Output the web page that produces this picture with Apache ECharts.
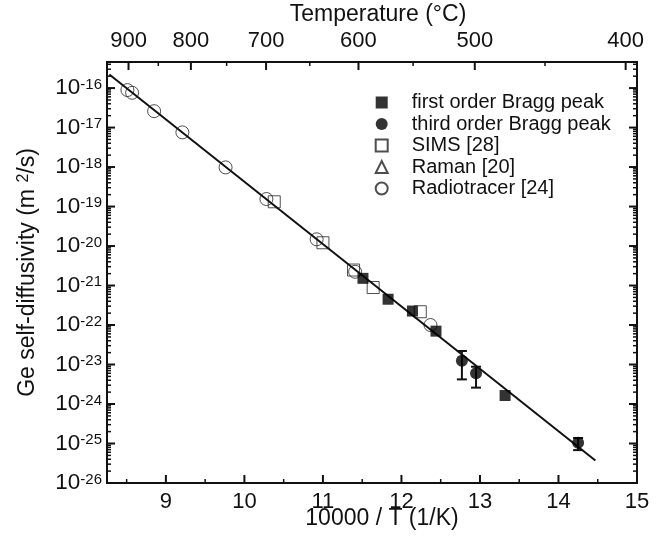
<!DOCTYPE html>
<html><head><meta charset="utf-8">
<script src="https://cdn.jsdelivr.net/npm/echarts@6/dist/echarts.min.js"></script>
<style>html,body{margin:0;padding:0;background:#fff}#c{width:663px;height:542px}</style>
</head><body><div id="c"></div>
<script>
// ---- data (x = 10000/T in 1/K, D in m^2/s) ----
const firstOrderX = [11.51, 11.83, 12.14, 12.44, 13.32];
const firstOrderD = [1.52e-21, 4.5e-22, 2.26e-22, 7.0e-23, 1.64e-24];

const thirdOrderX = [12.77, 12.95, 14.25];
const thirdOrderD = [1.25e-23, 6.0e-24, 1.05e-25];
const thirdOrderLow = [4.2e-24, 2.6e-24, 6.8e-26];
const thirdOrderHigh = [2.2e-23, 8.8e-24, 1.38e-25];

const simsX = [10.38, 11.00, 11.39, 11.64, 12.24];
const simsD = [1.32e-19, 1.21e-20, 2.47e-21, 8.9e-22, 2.17e-22];

const ramanX = [];
const ramanD = [];

const radioX = [8.51, 8.57, 8.85, 9.21, 9.76, 10.28, 10.92, 11.41, 12.37];
const radioD = [8.9e-17, 7.6e-17, 2.6e-17, 7.55e-18, 9.8e-19, 1.55e-19, 1.48e-20, 2.23e-21, 1.0e-22];

const fitX = [8.28, 14.47];
const fitD = [2.2e-16, 3.7e-26];

// tick labels
const xTicks = [9, 10, 11, 12, 13, 14, 15];
const xMinorTicks = [8.5, 9.5, 10.5, 11.5, 12.5, 13.5, 14.5];
const tempTicks = [900, 800, 700, 600, 500, 400];       // °C
const tempMinorTicks = [850, 750, 650, 550, 450];
const yDecades = [-26, -25, -24, -23, -22, -21, -20, -19, -18, -17, -16];

// ---- build ----
const X_MIN = 8.25, X_MAX = 15, Y_MIN = -26, Y_MAX = -15.34;
const FONT = 'Liberation Sans, Arial, Helvetica, sans-serif';
const INK = '#111111';
const lg = v => Math.log10(v);
const pairs = (xs, ds) => xs.map((x, i) => [x, lg(ds[i])]);
const invT = t => 10000 / (t + 273.15);

const yMinor = [];
yDecades.forEach(n => { for (let k = 2; k <= 9; k++) { const v = n + Math.log10(k); if (v < Y_MAX) yMinor.push(v); } });

const MAJ = 8, MIN_L = 4;

// tick marks drawn as small bar symbols sitting on the axis edges
function tickSeries(name, pts, vertical, len, dir) {
  const w = len > 5 ? 2 : 1.5;
  return {
    name: name, type: 'scatter', silent: true, clip: false, z: 6,
    symbol: 'rect',
    symbolSize: vertical ? [w, len] : [len, w],
    symbolOffset: vertical ? [0, dir * len / 2] : [dir * len / 2, 0],
    itemStyle: { color: INK, borderWidth: 0, opacity: 1 },
    data: pts
  };
}

const hiddenAxisBits = {
  axisLine: { show: false, onZero: false },
  axisTick: { show: false },
  splitLine: { show: false }
};

const openStyle = { color: 'rgba(0,0,0,0)', borderColor: '#222', borderWidth: 1 };
const fillStyle = { color: '#000' };

const option = {
  animation: false,
  textStyle: { fontFamily: FONT },
  grid: { left: 107, right: 26, top: 62, bottom: 59, containLabel: false, outerBoundsMode: 'none' },
  xAxis: [
    Object.assign({
      type: 'value', position: 'bottom', min: X_MIN, max: X_MAX,
      axisLabel: { show: true, customValues: xTicks, fontSize: 22, lineHeight: 22, margin: 8, color: INK, fontFamily: FONT },
      name: '10000 / T (1/K)', nameLocation: 'middle', nameGap: 24, nameMoveOverlap: false,
      nameTextStyle: { fontSize: 23, lineHeight: 23, color: INK, fontFamily: FONT, padding: [0, 0, 0, 20] }
    }, hiddenAxisBits),
    Object.assign({
      type: 'value', position: 'top', min: X_MIN, max: X_MAX,
      axisLabel: { show: true, customValues: tempTicks.map(invT), fontSize: 22, lineHeight: 22, margin: 10, color: INK, fontFamily: FONT,
        formatter: v => String(Math.round(10000 / v - 273.15)) },
      name: 'Temperature (°C)', nameLocation: 'middle', nameGap: 36, nameMoveOverlap: false,
      nameTextStyle: { fontSize: 23, lineHeight: 23, color: INK, fontFamily: FONT, padding: [0, 0, 0, 12] }
    }, hiddenAxisBits)
  ],
  yAxis: [
    Object.assign({
      type: 'value', position: 'left', min: Y_MIN, max: Y_MAX,
      axisLabel: { show: true, customValues: yDecades, margin: 5,
        formatter: v => '{b|10}{s|' + v + '}',
        rich: {
          b: { fontSize: 22.5, lineHeight: 22, color: INK, fontFamily: FONT },
          s: { fontSize: 15, lineHeight: 13, verticalAlign: 'top', color: INK, fontFamily: FONT }
        } },
      name: 'Ge self-diffusivity (m {s|2}/s)', nameLocation: 'middle', nameGap: 68, nameMoveOverlap: false,
      nameTextStyle: {
        fontSize: 23, lineHeight: 23, color: INK, fontFamily: FONT,
        rich: { s: { fontSize: 16, lineHeight: 14, verticalAlign: 'top', color: INK, fontFamily: FONT } }
      }
    }, hiddenAxisBits),
    Object.assign({
      type: 'value', position: 'right', min: Y_MIN, max: Y_MAX,
      axisLabel: { show: false }
    }, hiddenAxisBits)
  ],
  legend: {
    orient: 'vertical', left: 374.7, top: 92.5, padding: 0,
    itemWidth: 12, itemHeight: 12, itemGap: 1.5,
    textStyle: { fontSize: 20, lineHeight: 20, color: INK, fontFamily: FONT, padding: [0, 0, 0, 19] },
    data: ['first order Bragg peak', 'third order Bragg peak', 'SIMS [28]', 'Raman [20]', 'Radiotracer [24]']
  },
  series: [
    // plot frame as a closed polyline through the four corners of the axis ranges
    { name: 'frame', type: 'line', clip: false, silent: true, z: 6, symbol: 'none', showSymbol: false,
      data: [[X_MIN, Y_MIN], [X_MAX, Y_MIN], [X_MAX, Y_MAX], [X_MIN, Y_MAX], [X_MIN, Y_MIN]],
      lineStyle: { color: INK, width: 2, cap: 'square', join: 'miter' } },
    tickSeries('tB', xTicks.map(v => [v, Y_MIN]), true, MAJ, -1),
    tickSeries('tBm', xMinorTicks.map(v => [v, Y_MIN]), true, MIN_L, -1),
    tickSeries('tT', tempTicks.map(t => [invT(t), Y_MAX]), true, MAJ, 1),
    tickSeries('tTm', tempMinorTicks.map(t => [invT(t), Y_MAX]), true, MIN_L, 1),
    tickSeries('tL', yDecades.map(v => [X_MIN, v]), false, MAJ, 1),
    tickSeries('tLm', yMinor.map(v => [X_MIN, v]), false, MIN_L, 1),
    tickSeries('tR', yDecades.map(v => [X_MAX, v]), false, MAJ, -1),
    tickSeries('tRm', yMinor.map(v => [X_MAX, v]), false, MIN_L, -1),
    { name: 'fit', type: 'line', data: pairs(fitX, fitD), showSymbol: false, symbol: 'none',
      lineStyle: { color: INK, width: 2 }, silent: true, z: 3 },
    { name: 'SIMS [28]', type: 'scatter', symbol: 'rect', symbolSize: 12, data: pairs(simsX, simsD), itemStyle: openStyle, z: 2 },
    { name: 'Radiotracer [24]', type: 'scatter', symbol: 'circle', symbolSize: 13, data: pairs(radioX, radioD), itemStyle: openStyle, z: 2 },
    { name: 'Raman [20]', type: 'scatter', symbol: 'triangle', symbolSize: 13, data: pairs(ramanX, ramanD), itemStyle: openStyle, z: 2 },
    { name: 'errbars', type: 'custom', z: 4, silent: true,
      data: thirdOrderX.map((x, i) => [x, lg(thirdOrderLow[i]), lg(thirdOrderHigh[i])]),
      encode: { x: 0, y: [1, 2] },
      renderItem: (params, api) => {
        const x = api.value(0);
        const lo = api.coord([x, api.value(1)]);
        const hi = api.coord([x, api.value(2)]);
        const w = 5;
        const st = { stroke: INK, lineWidth: 2 };
        return { type: 'group', children: [
          { type: 'line', shape: { x1: lo[0], y1: lo[1], x2: hi[0], y2: hi[1] }, style: st },
          { type: 'line', shape: { x1: lo[0] - w, y1: lo[1], x2: lo[0] + w, y2: lo[1] }, style: st },
          { type: 'line', shape: { x1: hi[0] - w, y1: hi[1], x2: hi[0] + w, y2: hi[1] }, style: st }
        ] };
      }
    },
    { name: 'first order Bragg peak', type: 'scatter', symbol: 'rect', symbolSize: 11, data: pairs(firstOrderX, firstOrderD), itemStyle: fillStyle, z: 5 },
    { name: 'third order Bragg peak', type: 'scatter', symbol: 'circle', symbolSize: 12, data: pairs(thirdOrderX, thirdOrderD), itemStyle: fillStyle, z: 5 }
  ]
};

const chart = echarts.init(document.getElementById('c'), null, { renderer: 'canvas' });
chart.setOption(option);
</script>
</body></html>
